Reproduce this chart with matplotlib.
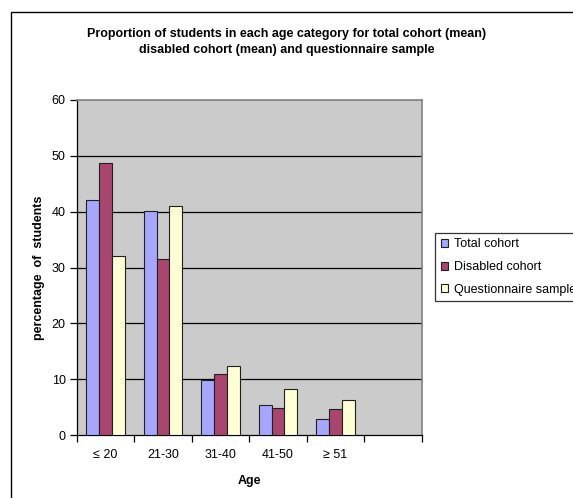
import matplotlib.pyplot as plt
import numpy as np
from matplotlib.patches import Rectangle

plt.rcParams['font.family'] = ['Liberation Sans', 'DejaVu Sans']

# Data
age_groups = ['≤ 20', '21-30', '31-40', '41-50', '≥ 51', '']
total_cohort = [42.0, 40.2, 9.9, 5.4, 2.8]
disabled_cohort = [48.7, 31.5, 10.9, 4.8, 4.6]
questionnaire = [32.0, 41.1, 12.4, 8.3, 6.3]
series_names = ['Total cohort', 'Disabled cohort', 'Questionnaire sample']
yticks = [0, 10, 20, 30, 40, 50, 60]

colors = ['#A6A6FF', '#A8466F', '#FFFFD6']

W, H = 573, 498
fig = plt.figure(figsize=(W / 100, H / 100), dpi=100)
fig.patch.set_facecolor('white')

# outer chart border (runs off the right and bottom edges)
fig.add_artist(Rectangle((11 / W, -0.1), 1.2, 1.1 - 12.5 / H,
                         transform=fig.transFigure, fill=False,
                         edgecolor='black', linewidth=1.0))

ax = fig.add_axes([76.7 / W, 1 - 435 / H, 345 / W, 335 / H])
ax.set_facecolor('#CBCBCB')

n = len(total_cohort)
x = np.arange(n)
width = 1 / 4.5
for i, vals in enumerate([total_cohort, disabled_cohort, questionnaire]):
    ax.bar(x + (i - 1) * width, vals, width, color=colors[i],
           edgecolor='#202020', linewidth=0.8, label=series_names[i], zorder=3)

ax.set_xlim(-0.5, len(age_groups) - 0.5)
ax.set_ylim(0, 60)
ax.set_yticks(yticks)
ax.set_yticklabels([str(v) for v in yticks], fontsize=9)
for v in yticks[1:-1]:
    ax.axhline(v, color='black', linewidth=0.9, zorder=1)

# category boundary ticks, labels centred between them
ax.set_xticks(np.arange(-0.5, len(age_groups), 1))
ax.set_xticklabels([''] * (len(age_groups) + 1))
ax.set_xticks(np.arange(len(age_groups)), minor=True)
ax.set_xticklabels(age_groups, minor=True, fontsize=9)
ax.tick_params(axis='x', which='major', length=5, direction='out', width=0.9)
ax.tick_params(axis='x', which='minor', length=0, pad=10)
ax.tick_params(axis='y', length=5, direction='out', width=0.9, pad=3)

for s in ['top', 'right']:
    ax.spines[s].set_color('#808080')
    ax.spines[s].set_linewidth(1.2)
for s in ['left', 'bottom']:
    ax.spines[s].set_color('black')
    ax.spines[s].set_linewidth(0.9)

ax.set_xlabel('Age', fontsize=9, fontweight='bold', labelpad=10)
ax.set_ylabel('percentage  of  students', fontsize=9, fontweight='bold', labelpad=5)

fig.text(287 / W, 1 - 42 / H,
         'Proportion of students in each age category for total cohort (mean)\n'
         'disabled cohort (mean) and questionnaire sample',
         ha='center', va='center', fontsize=9, fontweight='bold', linespacing=1.4)

leg = ax.legend(loc='upper left', bbox_to_anchor=(435 / W, 1 - 232.7 / H),
                bbox_transform=fig.transFigure, fontsize=9, frameon=True,
                fancybox=False, edgecolor='black', handlelength=0.6,
                handleheight=0.6, handletextpad=0.5, labelspacing=0.85,
                borderpad=0.45, borderaxespad=0)
leg.get_frame().set_linewidth(0.9)

fig.savefig('out.png', dpi=100)
